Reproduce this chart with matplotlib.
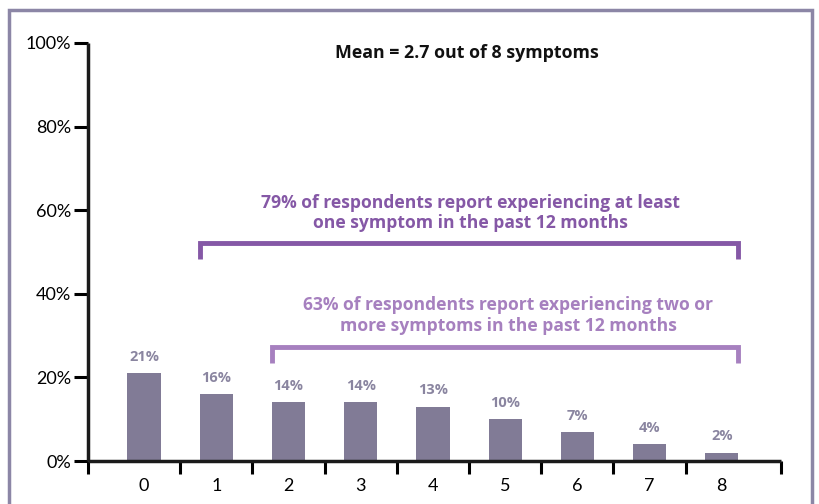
import matplotlib.pyplot as plt
from matplotlib.patches import Rectangle
import numpy as np

# data
symptoms = ['0', '1', '2', '3', '4', '5', '6', '7', '8']
share = [21, 16, 14, 14, 13, 10, 7, 4, 2]
y_ticks = [0, 20, 40, 60, 80, 100]

bar_color = '#817b96'
label_color = '#8a85a0'
dark_purple = '#8558a6'
light_purple = '#a680bf'
border_color = '#8c86a6'

fig = plt.figure(figsize=(8.19, 5.04), dpi=100)
ax = fig.add_axes([0.1074, 0.0853, 0.8462, 0.8294])

x = np.arange(len(symptoms))
ax.bar(x, share, width=0.46, color=bar_color, zorder=2)

for xi, v in zip(x, share):
    ax.text(xi, v + 2.2, f'{v}%', ha='center', va='bottom', fontsize=10.5,
            fontweight='bold', color=label_color, family='Open Sans')

ax.set_xlim(-0.776, 8.82)
ax.set_ylim(0, 100)

# x ticks between the bars, labels under the bars
ax.set_xticks(list(x[:-1] + 0.5) + [-0.776, 8.82])
ax.set_xticklabels([])
ax.set_xticks(x, minor=True)
ax.set_xticklabels(symptoms, minor=True, fontsize=13, family='Lato')
ax.tick_params(axis='x', which='minor', length=0, pad=12)
ax.tick_params(axis='x', which='major', length=9, width=2.2, direction='out')

ax.set_yticks(y_ticks)
ax.set_yticklabels([f'{t}%' for t in y_ticks], fontsize=13, family='Lato')
ax.tick_params(axis='y', length=10, width=2.2, pad=2)

for s in ['top', 'right']:
    ax.spines[s].set_visible(False)
for s in ['left', 'bottom']:
    ax.spines[s].set_linewidth(2.5)
    ax.spines[s].set_color('#1a1a1a')
    ax.spines[s].set_capstyle('butt')

# brackets
def bracket(x0, x1, ytop, ybot, color):
    ax.plot([x0, x0, x1, x1], [ybot, ytop, ytop, ybot], color=color,
            lw=3.5, solid_joinstyle='miter', solid_capstyle='butt', clip_on=False)

bracket(0.77, 8.23, 52.2, 48.3, dark_purple)
bracket(1.77, 8.23, 27.3, 23.4, light_purple)

ax.text(4.515, 59.4, '79% of respondents report experiencing at least\none symptom in the past 12 months',
        ha='center', va='center', fontsize=12.6, fontweight='bold', color=dark_purple,
        family='Open Sans', linespacing=1.12)
ax.text(5.04, 34.9, '63% of respondents report experiencing two or\nmore symptoms in the past 12 months',
        ha='center', va='center', fontsize=12.6, fontweight='bold', color=light_purple,
        family='Open Sans', linespacing=1.2)
ax.text(4.47, 97.6, 'Mean = 2.7 out of 8 symptoms', ha='center', va='center',
        fontsize=12.8, fontweight='bold', color='#111111', family='Open Sans')

# frame around the chart
fig.patches.append(Rectangle((9 / 819, -0.05), 803 / 819, 1.05 - 10 / 504,
                             transform=fig.transFigure, fill=False,
                             edgecolor=border_color, lw=2.5))

fig.savefig('out.png', dpi=100)
